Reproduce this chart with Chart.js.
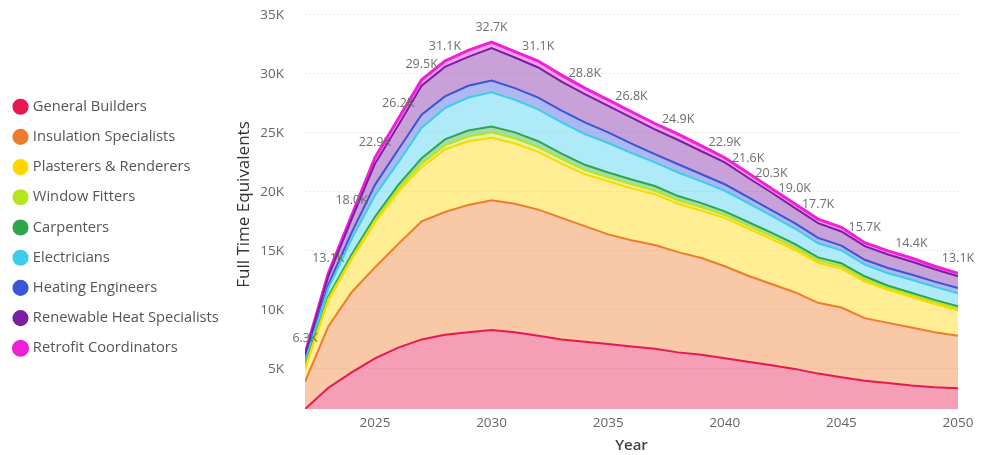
<!DOCTYPE html>
<html>
<head>
<meta charset="utf-8">
<script src="https://cdn.jsdelivr.net/npm/chart.js@4.4.1/dist/chart.umd.min.js"></script>
<style>
  html, body { margin: 0; padding: 0; background: #fff; }
  #wrap { position: relative; width: 988px; height: 455px; }
</style>
</head>
<body>
<div id="wrap"><canvas id="chart"></canvas></div>
<script>
// years on the x axis
const years = [2022, 2023, 2024, 2025, 2026, 2027, 2028, 2029, 2030, 2031, 2032, 2033, 2034, 2035,
  2036, 2037, 2038, 2039, 2040, 2041, 2042, 2043, 2044, 2045, 2046, 2047, 2048, 2049, 2050];

// full time equivalents per trade (stacked bottom to top)
const generalBuilders = [1600, 3400, 4700, 5900, 6800, 7500, 7900, 8100, 8300, 8100, 7800, 7500, 7300, 7100,
  6900, 6700, 6400, 6200, 5900, 5600, 5300, 5000, 4600, 4300, 4000, 3800, 3600, 3450, 3350];
const insulationSpecialists = [2300, 5200, 6800, 7700, 8800, 10000, 10400, 10800, 11000, 10900, 10700, 10300, 9800, 9300,
  9000, 8800, 8500, 8200, 7800, 7300, 6900, 6500, 6000, 5900, 5300, 5100, 4900, 4650, 4450];
const plasterers = [1100, 2200, 2800, 3800, 4400, 4600, 5300, 5400, 5300, 5100, 4900, 4600, 4400, 4500,
  4400, 4300, 4100, 4000, 4100, 4000, 3800, 3600, 3400, 3300, 3100, 2800, 2600, 2400, 2150];
const windowFitters = [100, 150, 150, 200, 250, 300, 350, 400, 450, 450, 400, 400, 350, 350,
  350, 300, 300, 300, 250, 250, 250, 200, 200, 200, 200, 150, 150, 150, 150];
const carpenters = [150, 200, 250, 300, 350, 450, 500, 500, 500, 500, 500, 450, 450, 400,
  400, 400, 350, 350, 300, 300, 300, 300, 250, 250, 250, 200, 200, 200, 200];
const electricians = [350, 700, 1300, 1800, 1900, 2600, 2650, 2800, 2900, 2750, 2700, 2650, 2600, 2500,
  2250, 2000, 2000, 1850, 1750, 1600, 1450, 1300, 1200, 1100, 1000, 1050, 1100, 1100, 1100];
const heatingEngineers = [150, 300, 550, 900, 1100, 1100, 1000, 1000, 1000, 1000, 1000, 1000, 1000, 900,
  800, 700, 700, 600, 550, 500, 450, 450, 450, 400, 400, 450, 450, 450, 450];
const renewableHeat = [400, 700, 1150, 1800, 2050, 2450, 2500, 2450, 2750, 2600, 2550, 2450, 2400, 2250,
  2200, 2100, 2050, 1950, 1850, 1650, 1500, 1300, 1250, 1200, 1150, 1150, 1100, 1050, 1000];
const retrofitCoordinators = [150, 250, 300, 500, 550, 500, 500, 550, 500, 500, 550, 550, 500, 500,
  500, 500, 500, 450, 400, 400, 350, 350, 350, 350, 300, 300, 300, 250, 250];

// years that show a total label
const labelYears = [2022, 2023, 2024, 2025, 2026, 2027, 2028, 2030, 2032, 2034, 2036, 2038,
  2040, 2041, 2042, 2043, 2044, 2046, 2048, 2050];

const yTicks = [5000, 10000, 15000, 20000, 25000, 30000, 35000];
const xTicks = [2025, 2030, 2035, 2040, 2045, 2050];

const series = [
  { name: 'General Builders', values: generalBuilders, color: '232,25,79' },
  { name: 'Insulation Specialists', values: insulationSpecialists, color: '240,123,44' },
  { name: 'Plasterers & Renderers', values: plasterers, color: '255,214,0' },
  { name: 'Window Fitters', values: windowFitters, color: '181,230,29' },
  { name: 'Carpenters', values: carpenters, color: '44,168,74' },
  { name: 'Electricians', values: electricians, color: '61,205,235' },
  { name: 'Heating Engineers', values: heatingEngineers, color: '58,85,216' },
  { name: 'Renewable Heat Specialists', values: renewableHeat, color: '123,31,162' },
  { name: 'Retrofit Coordinators', values: retrofitCoordinators, color: '240,31,216' },
];

const totals = years.map((y, i) => series.reduce((s, d) => s + d.values[i], 0));
const fmtK = v => (v / 1000).toFixed(1) + 'K';

const FONT = '"Open Sans", "DejaVu Sans", sans-serif';

const datasets = series.map((s, idx) => ({
  label: s.name,
  data: s.values.map((v, i) => ({ x: years[i], y: v })),
  borderColor: 'rgb(' + s.color + ')',
  backgroundColor: 'rgba(' + s.color + ',0.42)',
  pointBackgroundColor: 'rgb(' + s.color + ')',
  borderWidth: idx === series.length - 1 ? 3 : 2,
  pointRadius: 0,
  tension: 0,
  fill: idx === 0 ? 'origin' : '-1',
}));

// totals written above the top line
const totalLabels = {
  id: 'totalLabels',
  afterDatasetsDraw(chart) {
    const ctx = chart.ctx;
    const top = chart.getDatasetMeta(chart.data.datasets.length - 1);
    ctx.save();
    ctx.font = '12.5px ' + FONT;
    ctx.fillStyle = '#6e6e6e';
    ctx.textAlign = 'center';
    ctx.textBaseline = 'middle';
    labelYears.forEach(yr => {
      const i = years.indexOf(yr);
      const pt = top.data[i];
      ctx.fillText(fmtK(totals[i]), pt.x, pt.y - 15);
    });
    ctx.restore();
  }
};

new Chart(document.getElementById('chart'), {
  type: 'line',
  data: { datasets: datasets },
  options: {
    responsive: true,
    maintainAspectRatio: false,
    animation: false,
    layout: { padding: { top: 0, right: 30, bottom: 0, left: 0 } },
    plugins: {
      legend: {
        position: 'left',
        labels: {
          usePointStyle: true,
          pointStyle: 'circle',
          boxWidth: 10,
          boxHeight: 10,
          padding: 15.5,
          color: '#555',
          font: { family: FONT, size: 14.7 },
        },
      },
      tooltip: { enabled: false },
    },
    scales: {
      x: {
        type: 'linear',
        min: 2022,
        max: 2050,
        afterBuildTicks: scale => { scale.ticks = xTicks.map(v => ({ value: v })); },
        afterFit: scale => { scale.height = 46; },
        ticks: {
          padding: 6,
          color: '#666',
          font: { family: FONT, size: 13.5 },
          callback: v => String(v),
        },
        grid: { display: false, drawTicks: false },
        border: { display: false },
        title: {
          display: true,
          text: 'Year',
          color: '#444',
          font: { family: FONT, size: 15, weight: '600' },
          padding: { top: 4, bottom: 0 },
        },
      },
      y: {
        stacked: true,
        min: 1600,
        max: 36270,
        afterBuildTicks: scale => { scale.ticks = yTicks.map(v => ({ value: v })); },
        afterFit: scale => {
          const lw = scale.chart.legend ? scale.chart.legend.width : 0;
          scale.width = 305 - lw;
          scale.paddingTop = 0;
          scale.paddingBottom = 0;
        },
        ticks: {
          padding: 21,
          color: '#666',
          font: { family: FONT, size: 13.5 },
          callback: v => (v / 1000) + 'K',
        },
        grid: { color: '#d6d6d6', lineWidth: 1, drawTicks: false },
        border: { display: false, dash: [1, 3] },
        title: {
          display: true,
          text: 'Full Time Equivalents',
          color: '#333',
          font: { family: FONT, size: 17 },
          padding: { top: 5, bottom: 0 },
        },
      },
    },
  },
  plugins: [totalLabels],
});
</script>
</body>
</html>
